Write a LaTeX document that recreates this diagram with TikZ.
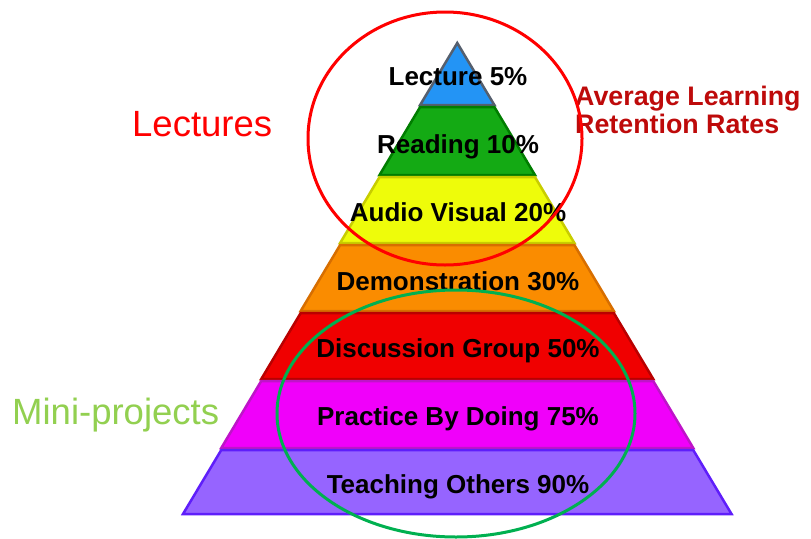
\documentclass[tikz,border=0pt]{standalone}
\usepackage{fontspec}
\setmainfont{Liberation Sans}
\definecolor{cBlue}{RGB}{35,148,245}
\definecolor{dBlue}{RGB}{85,95,110}
\definecolor{cGreen}{RGB}{20,170,20}
\definecolor{dGreen}{RGB}{0,125,0}
\definecolor{cYellow}{RGB}{238,252,10}
\definecolor{dYellow}{RGB}{200,205,0}
\definecolor{cOrange}{RGB}{250,140,0}
\definecolor{dOrange}{RGB}{215,110,0}
\definecolor{cRed}{RGB}{240,0,0}
\definecolor{dRed}{RGB}{185,0,0}
\definecolor{cMag}{RGB}{240,0,250}
\definecolor{dMag}{RGB}{190,20,200}
\definecolor{cPurp}{RGB}{150,100,255}
\definecolor{dPurp}{RGB}{95,30,250}
\definecolor{lectRed}{RGB}{255,0,0}
\definecolor{miniGreen}{RGB}{146,208,80}
\definecolor{titleRed}{RGB}{190,10,10}
\definecolor{ringGreen}{RGB}{0,176,80}
\tikzset{
  bandlabel/.style={anchor=base, inner sep=0pt, font=\bfseries\fontsize{26}{30}\selectfont, text=black},
  sidelabel/.style={anchor=base west, inner sep=0pt},
  ring/.style={line width=3pt}
}
\begin{document}
\begin{tikzpicture}[x=1pt,y=-1pt]
\useasboundingbox (0,0) rectangle (811,538);
\fill[white] (0,0) rectangle (811,538);
% pyramid bands
\foreach \ya/\yb/\fc/\dc in {42/106/cBlue/dBlue,106/176/cGreen/dGreen,176/244/cYellow/dYellow,244/312/cOrange/dOrange,312/380/cRed/dRed,380/449/cMag/dMag,449/515/cPurp/dPurp}{
  \pgfmathsetmacro\wa{(\ya-42)/473*274.25}
  \pgfmathsetmacro\wb{(\yb-42)/473*274.25}
  \filldraw[fill=\fc, draw=\dc, line width=2.5pt, line join=miter]
    (457.25-\wa,\ya+1) -- (457.25+\wa,\ya+1) -- (457.25+\wb,\yb-1) -- (457.25-\wb,\yb-1) -- cycle;
}
% band labels
\node[bandlabel] (lecture) at (458,85) {Lecture 5\%};
\node[bandlabel] (reading) at (458,153) {Reading 10\%};
\node[bandlabel] (audio) at (458,221) {Audio Visual 20\%};
\node[bandlabel] (demo) at (458,290) {Demonstration 30\%};
\node[bandlabel] (disc) at (458,357) {Discussion Group 50\%};
\node[bandlabel] (prac) at (458,425) {Practice By Doing 75\%};
\node[bandlabel] (teach) at (458,493) {Teaching Others 90\%};
% side labels
\node[sidelabel, text=lectRed, font=\fontsize{36.5}{40}\selectfont] (lectures) at (132,136) {Lectures};
\node[sidelabel, text=miniGreen, font=\fontsize{36.5}{40}\selectfont] (mini) at (12,424) {Mini-projects};
\node[sidelabel, text=titleRed, font=\bfseries\fontsize{26.8}{28}\selectfont] (avg) at (575,105) {Average Learning};
\node[sidelabel, text=titleRed, font=\bfseries\fontsize{26.8}{28}\selectfont] (ret) at (575,133) {Retention Rates};
% rings
\draw[ring, lectRed] (445,138.5) ellipse [x radius=137, y radius=126.5];
\draw[ring, ringGreen] (456,413.5) ellipse [x radius=179, y radius=123.5];
\end{tikzpicture}
\end{document}
